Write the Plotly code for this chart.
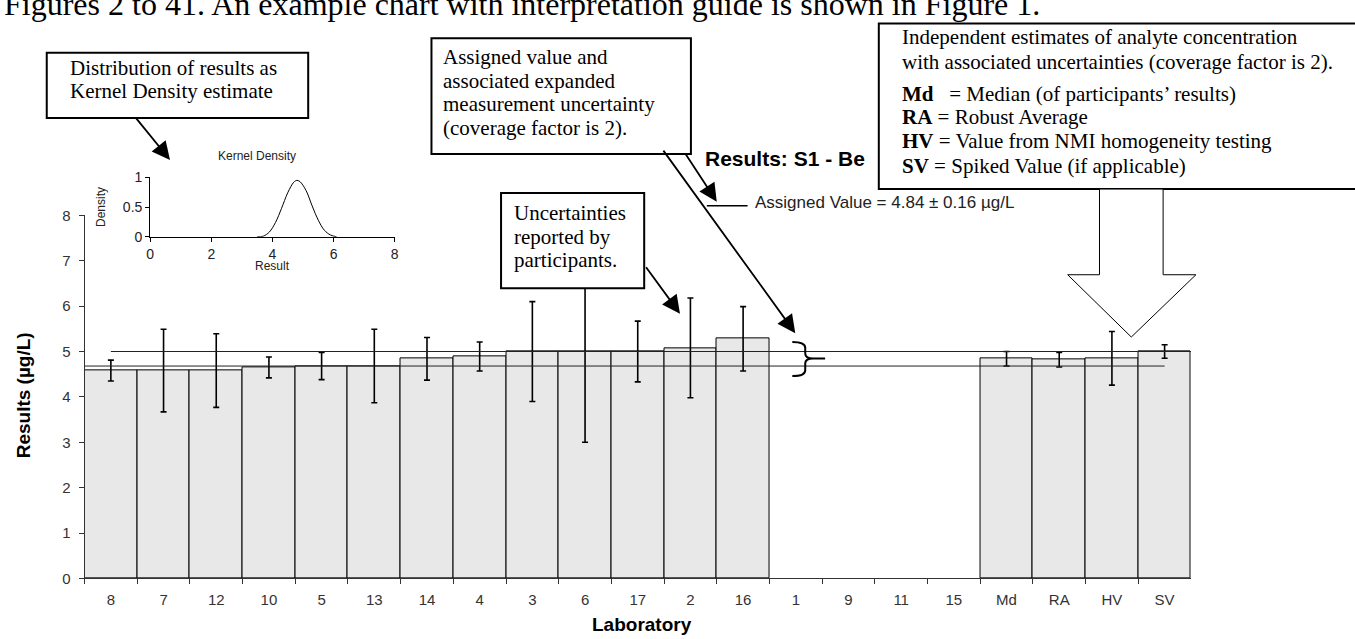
import plotly.graph_objects as go

# ---------------- data ----------------
labs = ["8", "7", "12", "10", "5", "13", "14", "4", "3", "6", "17", "2", "16",
        "1", "9", "11", "15", "Md", "RA", "HV", "SV"]
results = [4.58, 4.58, 4.58, 4.65, 4.68, 4.68, 4.84, 4.89, 5.00, 5.00, 5.00, 5.08, 5.28,
           None, None, None, None, 4.84, 4.82, 4.85, 5.00]
uncert = [0.23, 0.91, 0.81, 0.23, 0.30, 0.81, 0.47, 0.32, 1.10, 2.00, 0.67, 1.10, 0.71,
          None, None, None, None, 0.16, 0.16, 0.59, 0.15]
assigned_value = 4.84
assigned_unc = 0.16
y_ticks = [0, 1, 2, 3, 4, 5, 6, 7, 8]

kde_x = [3.5, 3.7, 3.9, 4.1, 4.3, 4.5, 4.7, 4.8, 4.9, 5.1, 5.3, 5.5, 5.7, 5.9, 6.1]
kde_y = [0.0, 0.01, 0.08, 0.24, 0.48, 0.74, 0.92, 0.95, 0.93, 0.78, 0.52, 0.28, 0.11, 0.03, 0.0]
kde_xticks = [0, 2, 4, 6, 8]
kde_yticks = [0, 0.5, 1]

W, H = 1355, 639


def X(p):
    return p / W


def Y(p):
    return 1 - p / H


SERIF = "Liberation Serif, Times New Roman, serif"
SANS = "Liberation Sans, Arial, sans-serif"

fig = go.Figure()

fig.add_trace(go.Bar(
    x=labs, y=results,
    marker=dict(color="#e8e8e8", line=dict(color="black", width=1)),
    error_y=dict(type="data", array=uncert, visible=True, color="black",
                 thickness=1.6, width=3),
    xaxis="x", yaxis="y", showlegend=False, hoverinfo="x+y",
))

fig.add_trace(go.Scatter(
    x=kde_x, y=kde_y, mode="lines", line=dict(color="black", width=1, shape="spline"),
    xaxis="x2", yaxis="y2", showlegend=False,
))

n = len(labs)
shapes = []
# assigned value +/- uncertainty lines
shapes.append(dict(type="line", xref="x", yref="y", x0=0, x1=n - 0.5,
                   y0=assigned_value + assigned_unc, y1=assigned_value + assigned_unc,
                   line=dict(color="#222", width=1), layer="above"))
shapes.append(dict(type="line", xref="x", yref="y", x0=-0.5, x1=n - 1,
                   y0=assigned_value - assigned_unc, y1=assigned_value - assigned_unc,
                   line=dict(color="#222", width=1), layer="above"))


def rect(x0, y0, x1, y1):
    shapes.append(dict(type="rect", xref="paper", yref="paper",
                       x0=X(x0), x1=X(x1), y0=Y(y1), y1=Y(y0),
                       line=dict(color="black", width=2), fillcolor="white", layer="above"))


rect(43, 45, 306, 112)      # kernel density box
rect(430, 30, 691, 149)     # assigned value box
rect(500, 189, 644, 287)    # uncertainties box
rect(880, 15, 1362, 185)    # independent estimates box

# big hollow arrow
pts = [(1102, 185), (1102, 273), (1070, 273), (1134, 337), (1199, 273), (1166, 273), (1166, 185)]
path = "M " + " L ".join(f"{X(a):.5f},{Y(b):.5f}" for a, b in pts) + " Z"
shapes.append(dict(type="path", xref="paper", yref="paper", path=path,
                   line=dict(color="black", width=1), fillcolor="white", layer="above"))


def P(a, b):
    return f"{X(a):.5f},{Y(b):.5f}"


# curly brace
brace = ("M " + P(793, 342) + " Q " + P(806, 342) + " " + P(806, 348) +
         " L " + P(806, 354) + " Q " + P(806, 359) + " " + P(814, 359) +
         " L " + P(826, 359) + " M " + P(814, 359) + " Q " + P(806, 359) + " " + P(806, 364) +
         " L " + P(806, 371) + " Q " + P(806, 377) + " " + P(793, 377))
shapes.append(dict(type="path", xref="paper", yref="paper", path=brace,
                   line=dict(color="black", width=2), layer="above"))

# assigned value legend line
shapes.append(dict(type="line", xref="paper", yref="paper", x0=X(707), x1=X(748),
                   y0=Y(202), y1=Y(202), line=dict(color="black", width=1.5)))

ann = []


def txt(x, y, s, size=21, font=SERIF, color="black", anchor="left", **kw):
    ann.append(dict(xref="paper", yref="paper", x=X(x), y=Y(y), text=s, showarrow=False,
                    xanchor=anchor, yanchor="middle", font=dict(family=font, size=size, color=color), **kw))


def arrow(tx, ty, sx, sy):
    ann.append(dict(xref="paper", yref="paper", x=X(tx), y=Y(ty), ax=sx - tx, ay=sy - ty,
                    text="", showarrow=True, arrowhead=2, arrowsize=2.0, arrowwidth=1.8,
                    arrowcolor="black", standoff=0, startstandoff=0))


txt(-2, -5, "Figures 2 to 41. An example chart with interpretation guide is shown in Figure 1.", size=32)

txt(64, 61, "Distribution of results as")
txt(64, 84, "Kernel Density estimate")

for i, s in enumerate(["Assigned value and", "associated expanded",
                       "measurement uncertainty", "(coverage factor is 2)."]):
    txt(440, [49, 74, 98, 122][i], s)

for i, s in enumerate(["Uncertainties", "reported by", "participants."]):
    txt(511, [210, 234, 258][i], s)

big_lines = [
    "Independent estimates of analyte concentration",
    "with associated uncertainties (coverage factor is 2).",
    "<b>Md</b>\u00a0\u00a0 = Median (of participants\u2019 results)",
    "<b>RA</b> = Robust Average",
    "<b>HV</b> = Value from NMI homogeneity testing",
    "<b>SV</b> = Spiked Value (if applicable)",
]
for i, s in enumerate(big_lines):
    txt(901, [29, 54, 87, 111, 136, 161][i], s)

txt(703, 154, "<b>Results: S1 - Be</b>", size=21, font=SANS)
txt(753, 199, "Assigned Value = 4.84 \u00b1 0.16 \u00b5g/L", size=17, font=SANS, color="#222")

txt(20, 397, "<b>Results (\u00b5g/L)</b>", size=19, font=SANS, anchor="center", textangle=-90)
txt(642, 632, "<b>Laboratory</b>", size=19, font=SANS, anchor="center")

txt(254, 151, "Kernel Density", size=12, font=SANS, anchor="center", color="#222")
txt(97, 203, "Density", size=12, font=SANS, anchor="center", textangle=-90, color="#222")
txt(270, 264, "Result", size=12, font=SANS, anchor="center", color="#222")

arrow(167, 155, 132, 112)
arrow(717, 198, 685, 149)
arrow(796, 333, 663, 149)
arrow(680, 313, 645, 265)

fig.update_layout(
    width=W, height=H,
    margin=dict(l=0, r=0, t=0, b=0),
    paper_bgcolor="white", plot_bgcolor="white",
    bargap=0,
    shapes=shapes, annotations=ann,
    xaxis=dict(domain=[X(81), X(1194)], type="category", categoryorder="array", categoryarray=labs,
               range=[-0.5, n - 0.5], tickson="boundaries", ticks="outside", ticklen=5,
               tickcolor="#333", showline=True, linecolor="#333", linewidth=1, ticklabelstandoff=8,
               tickfont=dict(family=SANS, size=15, color="#333"), showgrid=False, anchor="y",
               fixedrange=True),
    yaxis=dict(domain=[Y(585), Y(212)], range=[0, 8], tickvals=y_ticks, ticks="outside", ticklen=5,
               tickcolor="#333", showline=True, linecolor="#333", linewidth=1, ticklabelstandoff=5,
               tickfont=dict(family=SANS, size=15, color="#333"), showgrid=False, zeroline=False,
               anchor="x"),
    xaxis2=dict(domain=[X(147), X(393)], range=[0, 8], tickvals=kde_xticks, ticks="outside", ticklen=4,
                showline=True, linecolor="black", tickcolor="black", showgrid=False, zeroline=False,
                tickfont=dict(family=SANS, size=14, color="#222"), anchor="y2"),
    yaxis2=dict(domain=[Y(234), Y(173)], range=[0, 1], tickvals=kde_yticks, ticktext=["0", "0.5", "1"],
                ticks="outside", ticklen=4, showline=True, linecolor="black", tickcolor="black",
                showgrid=False, zeroline=False, tickfont=dict(family=SANS, size=14, color="#222"),
                anchor="x2"),
)

fig.write_html("out.html")
